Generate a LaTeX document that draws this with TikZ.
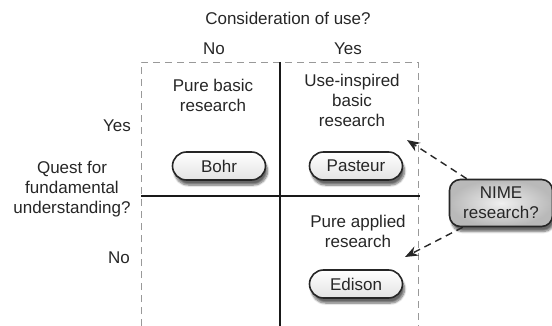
\documentclass[tikz,border=0pt]{standalone}
\usepackage{fontspec}
\setmainfont{Liberation Sans}
\usetikzlibrary{arrows.meta,shadows.blur}

\begin{document}
\begin{tikzpicture}[x=1pt,y=-1pt,
    every node/.style={font=\fontsize{17}{20}\selectfont,align=center,text=black!85},
    person/.style={draw=black!85,line width=1.6pt,rounded corners=14pt,
      minimum width=93pt,minimum height=28pt,top color=white,bottom color=gray!22,
      blur shadow={shadow xshift=2pt,shadow yshift=-5pt,shadow opacity=60,shadow blur steps=8}},
    question/.style={draw=black!85,line width=1.6pt,rounded corners=11pt,
      minimum width=103pt,minimum height=47pt,inner color=gray!12,outer color=gray!55,
      blur shadow={shadow xshift=2pt,shadow yshift=-5pt,shadow opacity=60,shadow blur steps=8}},
    frame/.style={gray!80,line width=0.9pt,dash pattern=on 7pt off 5pt},
    axis/.style={black!90,line width=2.8pt},
    hint/.style={line width=1.4pt,black!85,dash pattern=on 7pt off 5pt,
      -{Stealth[length=13pt,width=10pt]}}]
  \useasboundingbox (0,0) rectangle (552,326);
  % quadrant frame
  \coordinate (tl) at (141,62);
  \coordinate (tr) at (418,62);
  \draw[frame] (141,326) -- (tl) -- (tr) -- (418,326);
  \draw[axis] (280,62) -- (280,326);
  \draw[axis] (141,196) -- (420,196);
  % axis labels
  \node (use)   at (288,18)  {Consideration of use?};
  \node (useno) at (214,49)  {No};
  \node (useyes) at (348,49) {Yes};
  \node (questyes) at (117,126) {Yes};
  \node (quest) at (72,189)  {Quest for\\fundamental\\understanding?};
  \node (questno) at (119,258) {No};
  % quadrants
  \node (basic)   at (213,95)  {Pure basic\\research};
  \node (inspired) at (352,100) {Use-inspired\\basic\\research};
  \node (applied) at (358,231) {Pure applied\\research};
  \node[person] (bohr)    at (219,166) {Bohr};
  \node[person] (pasteur) at (356,166) {Pasteur};
  \node[person] (edison)  at (356,284) {Edison};
  \node[question] (nime)  at (501,203) {NIME\\research?};
  \coordinate (toinspired) at (407,140);
  \coordinate (toapplied)  at (405,257);
  \draw[hint] ([xshift=18pt]nime.north west) -- (toinspired);
  \draw[hint] ([xshift=14pt]nime.south west) -- (toapplied);
\end{tikzpicture}
\end{document}
